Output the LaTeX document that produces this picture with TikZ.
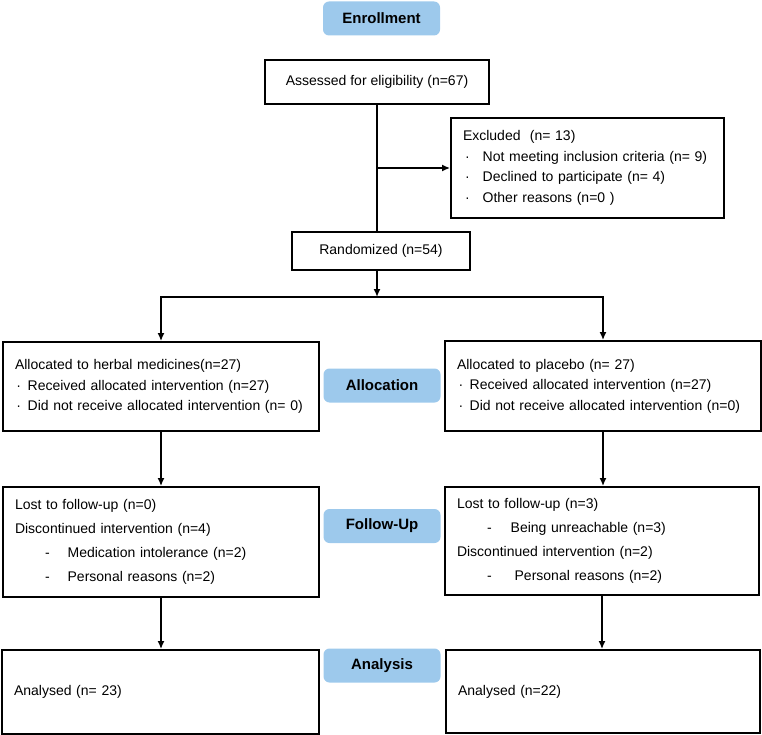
\documentclass[tikz,border=0pt]{standalone}
\usepackage{fontspec}
\setmainfont{Liberation Sans}
\usetikzlibrary{arrows.meta}
\definecolor{stageblue}{RGB}{157,201,236}

\begin{document}
\begin{tikzpicture}[x=1pt,y=-1pt]
      \tikzstyle{box}=[draw, line width=1.8pt, inner xsep=12pt, inner ysep=0pt, align=left, font=\fontsize{14}{20.5}\selectfont]
      \tikzstyle{stage}=[fill=stageblue, rounded corners=6pt, minimum width=117pt, minimum height=34pt, font=\fontsize{15}{18}\selectfont\bfseries]
      \tikzstyle{arr}=[-{Latex[length=8pt,width=7pt]}, line width=1.8pt]
      \useasboundingbox (0,0) rectangle (762,735);
      \node[stage] (enroll) at (381.5,18.5) {Enrollment};
      \node[box, align=center, minimum width=224pt, minimum height=44pt] (assess) at (377,82) {Assessed for eligibility (n=67)};
      \node[box, text width=249pt, minimum height=100pt] (excl) at (587.5,168)
        {Excluded\ \ (n= 13)\\
         \hspace*{2pt}·\hspace*{13pt}Not meeting inclusion criteria (n= 9)\\
         \hspace*{2pt}·\hspace*{13pt}Declined to participate (n= 4)\\
         \hspace*{2pt}·\hspace*{13pt}Other reasons (n=0 )};
      \node[box, align=center, minimum width=178pt, minimum height=38pt] (rand) at (381,251) {Randomized (n=54)};
      \coordinate (split) at (377,297);
      \node[box, text width=292pt, minimum height=89pt] (allocL) at (161,386.5)
        {Allocated to herbal medicines(n=27)\\
         \hspace*{1.5pt}·\hspace*{6.5pt}Received allocated intervention (n=27)\\
         \hspace*{1.5pt}·\hspace*{6.5pt}Did not receive allocated intervention (n= 0)};
      \node[box, text width=292pt, minimum height=90pt] (allocR) at (603,386)
        {Allocated to placebo (n= 27)\\
         \hspace*{1.5pt}·\hspace*{6.5pt}Received allocated intervention (n=27)\\
         \hspace*{1.5pt}·\hspace*{6.5pt}Did not receive allocated intervention (n=0)};
      \node[stage] (alloc) at (382,385.5) {Allocation};
      \node[box, text width=292pt, minimum height=110pt, font=\fontsize{14}{24}\selectfont] (fupL) at (161,542)
        {Lost to follow-up (n=0)\\
         Discontinued intervention (n=4)\\
         \hspace*{30pt}-\hspace*{18pt}Medication intolerance (n=2)\\
         \hspace*{30pt}-\hspace*{18pt}Personal reasons (n=2)};
      \node[box, text width=290pt, minimum height=108pt, font=\fontsize{14}{24}\selectfont] (fupR) at (602,541)
        {Lost to follow-up (n=3)\\
         \hspace*{30pt}-\hspace*{19pt}Being unreachable (n=3)\\
         Discontinued intervention (n=2)\\
         \hspace*{30pt}-\hspace*{23pt}Personal reasons (n=2)};
      \node[stage] (fup) at (382,526) {Follow-Up};
      \node[box, text width=293pt, minimum height=84pt] (anaL) at (160.5,692) {Analysed (n= 23)};
      \node[box, text width=290pt, minimum height=83pt] (anaR) at (603,691.5) {Analysed (n=22)};
      \node[stage] (ana) at (382,665.5) {Analysis};
      \draw[line width=1.8pt] (assess.south) -- (assess.south |- rand.north);
      \draw[arr] (assess.south |- excl.west) -- (excl.west);
      \draw[arr] (assess.south |- rand.south) -- (split);
      \draw[arr] (split) -| (allocL.north);
      \draw[arr] (split) -| (allocR.north);
      \draw[arr] (allocL.south) -- (allocL.south |- fupL.north);
      \draw[arr] (allocR.south) -- (allocR.south |- fupR.north);
      \draw[arr] (fupL.south) -- (fupL.south |- anaL.north);
      \draw[arr] (fupR.south) -- (fupR.south |- anaR.north);
\end{tikzpicture}
\end{document}
